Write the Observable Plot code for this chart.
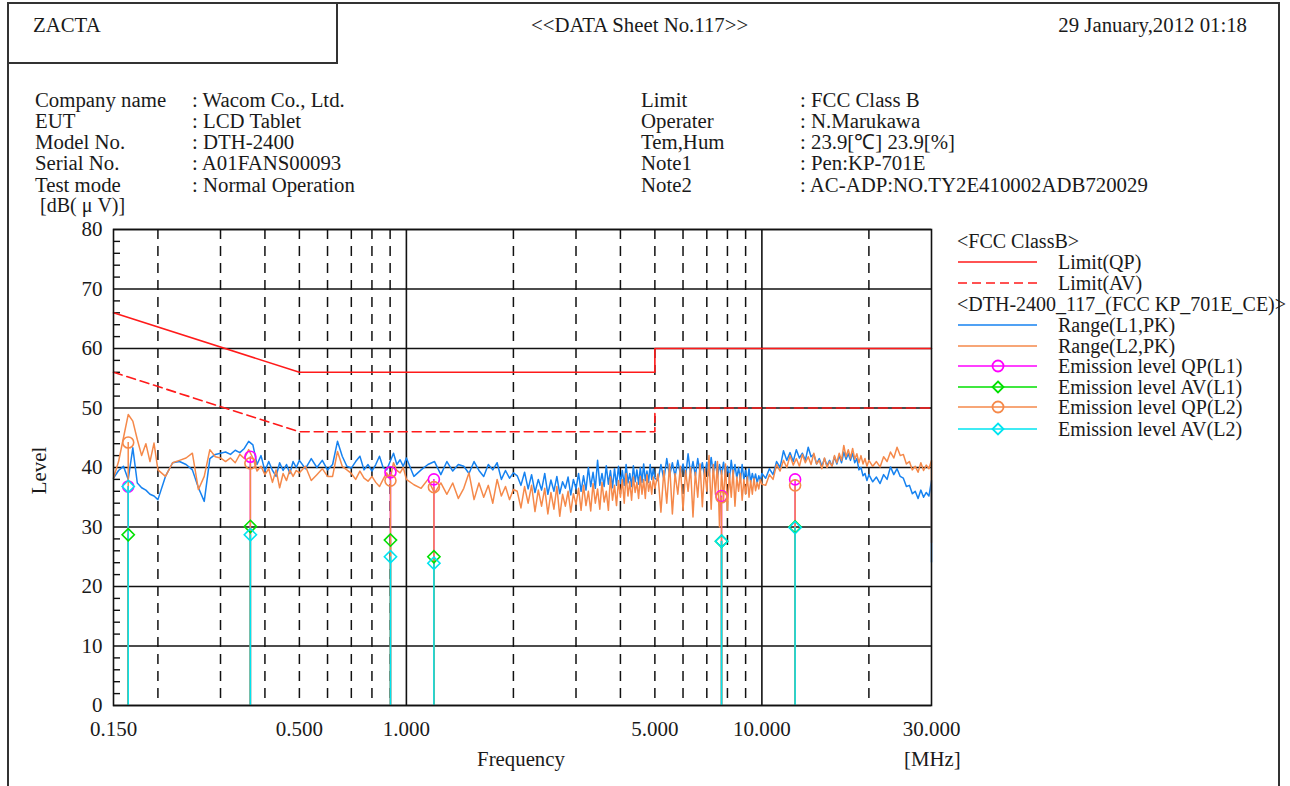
<!DOCTYPE html>
<html><head><meta charset="utf-8">
<script src="https://cdn.jsdelivr.net/npm/d3@7"></script>
<script src="https://cdn.jsdelivr.net/npm/@observablehq/plot@0.6"></script>
<style>
body{margin:0;background:#fff;}
#page{position:relative;width:1290px;height:786px;overflow:hidden;font-family:"Liberation Serif",serif;font-size:20.8px;color:#1a1a1a;}
.t{position:absolute;white-space:nowrap;line-height:21px;}
.lg{font-size:20px;}
#chart{position:absolute;left:60px;top:215px;}
.box{position:absolute;border-color:#333;border-style:solid;border-width:0;}
</style></head><body><div id="page"><div id="chart"></div></div>
<script>
// ---------- data ----------
const freqs = [
0.150,0.155,0.160,0.165,0.170,0.175,0.180,0.185,0.190,0.195,0.200,
0.210,0.220,0.230,0.240,0.250,0.260,0.270,0.280,0.290,0.300,
0.31,0.32,0.33,0.34,0.35,0.36,0.37,0.38,0.39,0.40,0.41,0.42,0.43,0.44,0.45,0.46,0.47,0.48,0.49,0.50,
0.52,0.54,0.56,0.58,0.60,
0.62,0.64,0.66,0.68,0.70,0.72,0.74,0.76,0.78,0.80,0.82,0.84,0.86,0.88,0.90,0.92,0.94,0.96,0.98,1.00,
1.05,1.10,1.15,1.20,1.25,1.30,1.35,1.40,1.45,1.50,1.55,1.60,1.65,1.70,1.75,1.80,1.85,1.90,1.95,2.00,
2.05,2.10,2.15,2.20,2.25,2.30,2.35,2.40,2.45,2.50,
2.55,2.60,2.65,2.70,2.75,2.80,2.85,2.90,2.95,3.00,
3.05,3.10,3.15,3.20,3.25,3.30,3.35,3.40,3.45,3.50,
3.55,3.60,3.65,3.70,3.75,3.80,3.85,3.90,3.95,4.00,
4.05,4.10,4.15,4.20,4.25,4.30,4.35,4.40,4.45,4.50,
4.55,4.60,4.65,4.70,4.75,4.80,4.85,4.90,4.95,5.00,
5.1,5.2,5.3,5.4,5.5,5.6,5.7,5.8,5.9,6.0,
6.1,6.2,6.3,6.4,6.5,6.6,6.7,6.8,6.9,7.0,
7.1,7.2,7.3,7.4,7.5,7.6,7.7,7.8,7.9,8.0,
8.1,8.2,8.3,8.4,8.5,8.6,8.7,8.8,8.9,9.0,
9.1,9.2,9.3,9.4,9.5,9.6,9.7,9.8,9.9,10.0,
10.25,10.5,10.75,11.0,11.25,11.5,11.75,12.0,12.25,12.5,
12.75,13.0,13.25,13.5,13.75,14.0,14.25,14.5,14.75,15.0,
15.25,15.5,15.75,16.0,16.25,16.5,16.75,17.0,17.25,17.5,
17.75,18.0,18.25,18.5,18.75,19.0,19.25,19.5,19.75,20.0,
20.5,21,21.5,22,22.5,23,23.5,24,24.5,25,
25.5,26,26.5,27,27.5,28,28.5,29,29.5,30,30];

const rangeL1 = [
38.2,39.5,40.2,38.0,43.3,37.4,36.6,36.2,35.5,35.2,34.6, 38.5,40.8,41.0,40.5,39.6,36.6,34.3,41.5,42.2,42.4,
42.6,42.2,42.9,42.5,43.2,44.4,43.8,40.5,42.0,39.4,41.0,39.5,38.5,40.8,39.5,40.5,39.0,41.0,40.0,41.2,
39.8,41.5,40.0,41.2,39.6,
40.5,44.4,41.9,40.2,39.9,41.0,41.9,39.6,40.5,39.4,40.5,41.9,40.0,39.6,41.0,42.4,40.5,41.3,40.2,41.6,
38.5,39.6,40.5,41.0,38.8,41.0,39.4,40.5,40.2,39.0,41.0,39.5,38.5,40.5,39.6,40.8,38.0,39.5,38.2,39.1,
38.6,37.0,39.2,36.4,38.8,35.8,38.0,36.2,39.0,35.5,
37.9,36.0,38.5,35.6,37.6,36.5,38.4,35.4,38.0,36.4,
39.0,36.0,38.6,36.2,40.0,36.8,39.2,36.5,41.2,37.0,
39.0,36.8,40.3,37.2,39.5,36.6,39.8,37.0,40.2,37.3,
39.5,37.0,40.5,37.4,39.0,36.8,40.3,37.6,39.6,37.2,
40.0,37.5,40.6,37.8,39.4,37.5,40.5,38.0,39.8,38.2,
37.8,40.5,38.0,41.5,38.6,40.8,38.5,41.2,38.8,40.6,
38.4,42.3,39.0,41.0,38.6,41.5,39.2,40.8,38.5,40.9,
38.6,41.7,39.0,41.0,38.4,40.5,38.8,40.9,38.5,40.2,
38.0,41.2,38.6,40.5,38.2,40.0,37.8,40.5,38.0,39.5,
37.6,39.8,37.5,39.0,37.8,38.9,37.4,38.6,37.8,39.0,
38.2,39.8,38.8,41.0,40.0,42.8,41.2,42.5,41.0,43.0,
41.6,42.4,41.2,43.4,41.8,42.2,40.6,41.5,40.2,41.5,
40.3,41.2,40.2,41.8,40.6,42.0,40.8,42.6,41.4,42.3,
41.2,42.4,40.8,41.5,39.6,40.0,38.6,39.0,37.8,38.8,
37.6,38.4,37.3,38.8,38.0,40.1,38.8,39.8,38.5,38.2,
36.8,37.0,35.6,36.0,34.8,36.2,35.0,35.8,35.2,37.8,24.1];

const rangeL2 = [
38.2,41.0,45.0,48.9,47.8,44.7,42.0,44.0,41.0,44.1,39.6, 38.5,40.8,41.2,41.6,42.4,36.3,38.5,43.0,41.8,41.6,
41.0,41.6,40.8,42.2,41.5,43.0,41.6,39.4,40.2,38.8,39.8,37.5,39.6,36.6,39.0,37.8,39.6,38.5,39.5,39.1,
40.2,37.8,38.8,39.8,38.5,
38.5,42.7,40.2,39.6,39.0,38.0,39.4,38.2,37.7,38.5,37.5,36.8,38.0,39.1,38.0,40.8,39.5,39.1,40.0,38.0,
37.1,36.5,38.0,35.7,37.4,35.5,37.4,34.8,36.5,39.1,34.6,37.4,35.0,37.0,34.0,38.0,35.2,36.8,34.6,36.3,
36.0,33.2,36.8,34.0,37.0,32.6,36.2,33.5,36.5,32.2,
35.8,33.0,36.8,31.8,35.5,33.5,36.0,32.5,35.6,33.8,
36.5,32.8,37.0,33.6,36.0,32.7,37.3,34.0,36.4,33.0,
37.5,34.2,36.0,32.8,38.4,34.5,37.0,33.6,37.8,35.0,
38.0,34.0,39.0,35.2,37.6,34.5,38.4,35.8,37.5,34.8,
38.5,35.5,38.0,34.8,38.8,36.0,37.6,35.5,38.4,36.5,
38.9,32.5,39.5,34.0,40.6,32.2,39.0,35.5,40.2,32.8,
39.5,36.0,40.0,31.7,39.2,35.0,40.6,33.4,39.8,36.0,
42.0,33.0,40.5,35.5,41.0,30.0,39.5,34.5,40.6,32.8,
39.0,35.0,39.6,33.5,38.4,36.0,39.0,34.5,38.0,35.5,
38.4,35.0,37.8,35.5,38.2,36.1,37.5,36.4,38.0,37.2,
37.0,38.8,38.0,40.5,39.4,41.2,40.0,42.0,40.4,41.5,
40.2,42.2,40.8,41.8,40.5,42.4,40.6,41.2,39.8,41.6,
40.0,41.0,40.2,42.0,40.8,42.4,41.2,43.7,41.8,43.0,
41.6,43.2,41.4,42.3,40.8,42.0,40.6,41.5,40.2,41.2,
40.2,41.0,40.1,41.8,41.0,42.6,41.6,43.4,42.0,42.2,
40.6,41.0,39.6,40.2,39.2,40.8,39.5,40.4,39.8,41.2,27.4];

const limitFreq = [0.15, 0.5, 5, 5, 30];
const limitQP = [66, 56, 56, 60, 60];
const limitAV = [56, 46, 46, 50, 50];

const emFreq = [0.165, 0.364, 0.902, 1.195, 7.70, 12.4];
const emQpL1 = [36.8, 41.8, 39.2, 38.0, 35.2, 38.0];
const emAvL1 = [28.7, 30.1, 27.8, 25.0, 27.6, 30.0];
const emQpL2 = [44.2, 40.7, 37.8, 36.7, 35.0, 37.0];
const emAvL2 = [36.8, 28.7, 25.0, 23.9, 27.6, 29.9];

const yMajor = [0,10,20,30,40,50,60,70,80];
const yMinor = [2,4,6,8,12,14,16,18,22,24,26,28,32,34,36,38,42,44,46,48,52,54,56,58,62,64,66,68,72,74,76,78];
const xSolid = [1, 10];
const xDashed = [0.2,0.3,0.4,0.5,0.6,0.7,0.8,0.9,2,3,4,5,6,7,8,9,20];
const xTicks = [0.15, 0.5, 1, 5, 10, 30];
const xTickLabels = ["0.150","0.500","1.000","5.000","10.000","30.000"];

// ---------- colours ----------
const C = {red:"#ff1a1a", blue:"#1682f0", orange:"#f5894a", magenta:"#ff00ff", green:"#00e000", cyan:"#00e4f0", grid:"#111"};

// ---------- tables ----------
const trace1 = freqs.map((f,i)=>({f, v: rangeL1[i]}));
const trace2 = freqs.map((f,i)=>({f, v: rangeL2[i]}));
const lim = limitFreq.map((f,i)=>({f, qp: limitQP[i], av: limitAV[i]}));
const em = s => emFreq.map((f,i)=>({f, v: s[i]}));
const qp1 = em(emQpL1), av1 = em(emAvL1), qp2 = em(emQpL2), av2 = em(emAvL2);

const W = 895, H = 555, mL = 53, mR = 24, mT = 14, mB = 65;
const frameW = W - mL - mR;

const chart = Plot.plot({
  width: W, height: H,
  marginLeft: mL, marginRight: mR, marginTop: mT, marginBottom: mB,
  style: {fontFamily: "'Liberation Serif', serif", fontSize: "21px", background: "transparent", color: "#1a1a1a", overflow: "visible"},
  x: {type: "log", domain: [0.15, 30]},
  y: {domain: [0, 80]},
  marks: [
    Plot.ruleY(yMajor, {stroke: C.grid, strokeWidth: 1.6}),
    Plot.ruleY(yMinor, {stroke: C.grid, strokeWidth: 1.4, insetRight: frameW - 7}),
    Plot.ruleX(xDashed, {stroke: C.grid, strokeWidth: 1.5, strokeDasharray: "10,7"}),
    Plot.ruleX(xSolid, {stroke: C.grid, strokeWidth: 1.6}),
    Plot.axisY(yMajor, {tickSize: 0, tickPadding: 11, label: null, tickFormat: d => String(d)}),
    Plot.axisX(xTicks, {tickSize: 0, tickPadding: 16, label: null, tickFormat: d => xTickLabels[xTicks.indexOf(d)]}),
    Plot.line(lim, {x: "f", y: "qp", stroke: C.red, strokeWidth: 1.6}),
    Plot.line(lim, {x: "f", y: "av", stroke: C.red, strokeWidth: 1.6, strokeDasharray: "9,5"}),
    Plot.line(trace1, {x: "f", y: "v", stroke: C.blue, strokeWidth: 1.5}),
    Plot.line(trace2, {x: "f", y: "v", stroke: C.orange, strokeWidth: 1.5}),
    Plot.ruleX(qp1, {x: "f", y1: 0, y2: "v", stroke: C.magenta, strokeWidth: 1.5}),
    Plot.ruleX(av1, {x: "f", y1: 0, y2: "v", stroke: C.green, strokeWidth: 1.5}),
    Plot.ruleX(qp2, {x: "f", y1: 0, y2: "v", stroke: C.orange, strokeWidth: 1.5}),
    Plot.ruleX(av2, {x: "f", y1: 0, y2: "v", stroke: C.cyan, strokeWidth: 1.5}),
    Plot.dot(qp1, {x: "f", y: "v", r: 5.5, symbol: "circle", stroke: C.magenta, fill: "none", strokeWidth: 1.6}),
    Plot.dot(av1, {x: "f", y: "v", r: 5.5, symbol: "diamond2", stroke: C.green, fill: "none", strokeWidth: 1.6}),
    Plot.dot(qp2, {x: "f", y: "v", r: 5.5, symbol: "circle", stroke: C.orange, fill: "none", strokeWidth: 1.6}),
    Plot.dot(av2, {x: "f", y: "v", r: 5.5, symbol: "diamond2", stroke: C.cyan, fill: "none", strokeWidth: 1.6}),
    Plot.frame({stroke: C.grid, strokeWidth: 1.6})
  ]
});
document.getElementById("chart").appendChild(chart);

// ---------- page text ----------
const page = document.getElementById("page");
function t(str, x, cy, extra, cls) {
  const d = document.createElement("div");
  d.className = "t" + (cls ? " " + cls : ""); d.textContent = str;
  d.style.left = x + "px"; d.style.top = (cy - 10.5) + "px";
  if (extra) Object.assign(d.style, extra);
  page.appendChild(d); return d;
}
function box(l, tp, w, h, sides) {
  const d = document.createElement("div"); d.className = "box";
  Object.assign(d.style, {left: l+"px", top: tp+"px", width: w+"px", height: h+"px"});
  sides.forEach(s => d.style["border" + s + "Width"] = "2px");
  page.appendChild(d);
}
box(7, 2, 1269, 800, ["Left","Top","Right"]);
box(7, 2, 329, 60, ["Right","Bottom"]);

t("ZACTA", 33, 24);
t("<<DATA Sheet No.117>>", 531, 24);
t("29 January,2012 01:18", 0, 24, {left: "auto", right: "43px"});

const infoL = ["Company name","EUT","Model No.","Serial No.","Test mode"];
const infoLV = [": Wacom Co., Ltd.",": LCD Tablet",": DTH-2400",": A01FANS00093",": Normal Operation"];
const infoR = ["Limit","Operater","Tem,Hum","Note1","Note2"];
const infoRV = [": FCC Class B",": N.Marukawa",": 23.9[℃] 23.9[%]",": Pen:KP-701E",": AC-ADP:NO.TY2E410002ADB720029"];
const rowY = [99,120,141,162,184];
infoL.forEach((s,i)=>{ t(s, 35, rowY[i]); t(infoLV[i], 192, rowY[i]); t(infoR[i], 641, rowY[i]); t(infoRV[i], 800, rowY[i]); });

t("[dB( μ V)]", 40, 205, {lineHeight: "16px", top: "197px", fontSize: "20px"});
t("Level", 38, 470, {transform: "translate(-50%,0) rotate(-90deg)", transformOrigin: "50% 50%", top: "459.5px", left: "38px"});
t("Frequency", 521, 758, {transform: "translateX(-50%)"});
t("[MHz]", 904, 758);

// ---------- legend ----------
const legendY = [241,262,283,304,325,346,366,387,407,429];
const legendItems = [
  {head: "<FCC ClassB>"},
  {label: "Limit(QP)", color: C.red},
  {label: "Limit(AV)", color: C.red, dash: "9,5"},
  {head: "<DTH-2400_117_(FCC KP_701E_CE)>"},
  {label: "Range(L1,PK)", color: C.blue},
  {label: "Range(L2,PK)", color: C.orange},
  {label: "Emission level QP(L1)", color: C.magenta, sym: "circle"},
  {label: "Emission level AV(L1)", color: C.green, sym: "diamond"},
  {label: "Emission level QP(L2)", color: C.orange, sym: "circle"},
  {label: "Emission level AV(L2)", color: C.cyan, sym: "diamond"}
];
legendItems.forEach((it,i)=>{
  const cy = legendY[i];
  if (it.head) { t(it.head, 957, cy, null, "lg"); return; }
  const ns = "http://www.w3.org/2000/svg";
  const s = document.createElementNS(ns, "svg");
  s.setAttribute("width", 82); s.setAttribute("height", 20);
  s.style.position = "absolute"; s.style.left = "957px"; s.style.top = (cy - 10) + "px";
  let inner = `<line x1="1" x2="80" y1="10" y2="10" stroke="${it.color}" stroke-width="1.6" ${it.dash ? `stroke-dasharray="${it.dash}"` : ""}/>`;
  if (it.sym === "circle") inner += `<circle cx="41" cy="10" r="5.5" fill="none" stroke="${it.color}" stroke-width="1.8"/>`;
  if (it.sym === "diamond") inner += `<path d="M41,4.5L46.5,10L41,15.5L35.5,10Z" fill="none" stroke="${it.color}" stroke-width="1.8"/>`;
  s.innerHTML = inner;
  page.appendChild(s);
  t(it.label, 1058, cy, null, "lg");
});
</script></body></html>
